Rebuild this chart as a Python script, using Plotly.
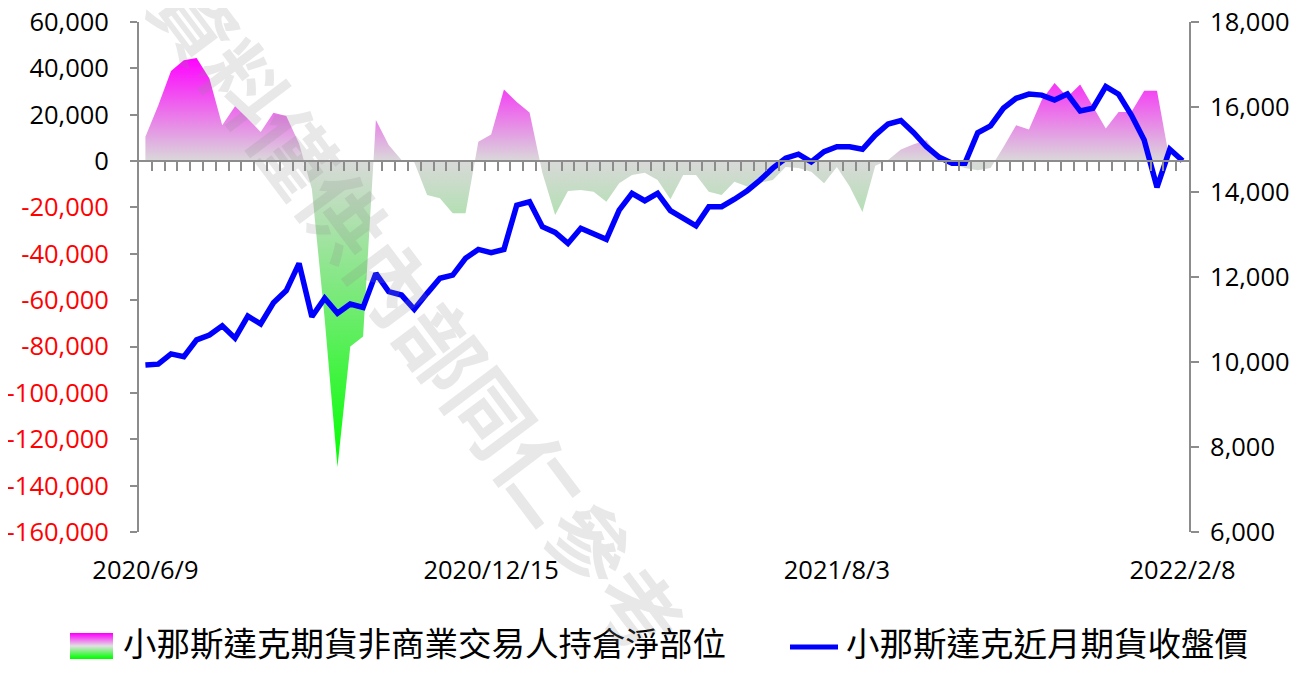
import plotly.graph_objects as go

# ---- data (weekly) ----
tick_labels = ["2020/6/9", "2020/12/15", "2021/8/3", "2022/2/8"]
tick_index = [0, 27, 54, 81]

net_position = [
    10500, 24000, 38900, 43500, 44500, 35600, 15500, 23700, 18300, 12600,
    20800, 19400, 7600, -12000, -68000, -132000, -80000, -75700, 17700, 6900,
    500, -500, -14600, -16000, -22500, -22500, 8300, 11500, 30900, 25500,
    21000, -5000, -23300, -12900, -12500, -13200, -17500, -9600, -6000, -5000,
    -8200, -16500, -6000, -6000, -13200, -14600, -8900, -11000, -9300, -8200,
    -2500, -3000, -4600, -9600, -2500, -11000, -22000, -2000, 500, 5000,
    7300, 9000, 1000, -1000, -3000, -4000, -3000, 6000, 15500, 13600,
    26300, 33700, 27700, 33000, 23400, 14100, 21200, 21200, 30300, 30300,
    0, 0,
]

close_price = [
    9930, 9950, 10190, 10125, 10520, 10635, 10850, 10560, 11080, 10895,
    11395, 11680, 12320, 11065, 11500, 11145, 11365, 11285, 12085, 11655,
    11575, 11240, 11615, 11970, 12045, 12440, 12650, 12570, 12650, 13690,
    13770, 13185, 13050, 12790, 13145, 13010, 12885, 13575, 13970, 13795,
    13970, 13560, 13365, 13205, 13655, 13655, 13830, 14030, 14280, 14560,
    14795, 14890, 14710, 14950, 15065, 15065, 15005, 15340, 15600, 15680,
    15395, 15065, 14815, 14675, 14675, 15395, 15555, 15970, 16205, 16305,
    16280, 16165, 16305, 15905, 15970, 16480, 16300, 15810, 15225, 14110,
    15005, 14735,
]

series_names = ["小那斯達克期貨非商業交易人持倉淨部位", "小那斯達克近月期貨收盤價"]
left_ticks = [60000, 40000, 20000, 0, -20000, -40000, -60000, -80000,
              -100000, -120000, -140000, -160000]
right_ticks = [6000, 8000, 10000, 12000, 14000, 16000, 18000]
watermark_text = "資料僅供內部同仁參考"

# ---- figure geometry (page body adds an 8px offset) ----
OFF = 8
W, H = 1306 - OFF, 686 - 2 * OFF
PLOT_L, PLOT_R, PLOT_T, PLOT_B = 139, 1189, 22, 532   # target screen pixels
ML, MT = PLOT_L - OFF, PLOT_T - OFF
MR, MB = W - (PLOT_R - OFF), H - (PLOT_B - OFF)


def px2x(px):
    return (px - PLOT_L) / (PLOT_R - PLOT_L)


def py2y(py):
    return (PLOT_B - py) / (PLOT_B - PLOT_T)


idx = list(range(len(net_position)))
lo, hi = min(net_position), max(net_position)
zfrac = (0 - lo) / (hi - lo)

AX = "#8c8c8c"
FONT = "Open Sans, Noto Sans CJK TC, sans-serif"
CJK = "Noto Sans CJK TC, sans-serif"
TFS = 25.5

fig = go.Figure()
fig.add_trace(go.Scatter(
    x=idx, y=net_position, mode="lines", line=dict(width=0),
    fill="tozeroy",
    fillgradient=dict(type="vertical", start=lo, stop=hi,
                      colorscale=[[0, "#00ff00"], [zfrac, "#d9d9d9"], [1, "#ff00ff"]]),
    name=series_names[0], showlegend=False, hoverinfo="skip",
))
fig.add_trace(go.Scatter(
    x=idx, y=close_price, yaxis="y2", mode="lines",
    line=dict(color="#0000ff", width=5.5),
    name=series_names[1], showlegend=False,
))
# carrier for the zero-crossing category axis
fig.add_trace(go.Scatter(x=[0], y=[0], xaxis="x2", mode="markers",
                         marker=dict(opacity=0), showlegend=False, hoverinfo="skip"))

left_text = [f'<span style="color:#ff0000">{v:,}</span>' if v < 0 else f"{v:,}" for v in left_ticks]

fig.update_layout(
    width=W, height=H,
    margin=dict(l=ML, r=MR, t=MT, b=MB, autoexpand=False),
    paper_bgcolor="white", plot_bgcolor="white",
    font=dict(family=FONT, size=TFS, color="#000000"),
    xaxis=dict(range=[-0.5, len(idx) - 0.5], tickmode="array",
               tickvals=tick_index, ticktext=tick_labels, automargin=False,
               showline=False, ticks="", showgrid=False, zeroline=False,
               ticklabelstandoff=20, ticklabeloverflow="allow",
               tickfont=dict(size=TFS)),
    xaxis2=dict(overlaying="x", anchor="free", automargin=False,
                position=(0 - left_ticks[-1]) / (left_ticks[0] - left_ticks[-1]),
                range=[-0.5, len(idx) - 0.5],
                tickmode="array", tickvals=[i + 0.5 for i in idx[:-1]],
                showticklabels=False, showline=True, linecolor=AX, linewidth=2,
                ticks="outside", ticklen=9, tickwidth=2, tickcolor=AX,
                showgrid=False, zeroline=False),
    yaxis=dict(range=[left_ticks[-1], left_ticks[0]], tickmode="array",
               tickvals=left_ticks, ticktext=left_text, automargin=False,
               showline=True, linecolor=AX, linewidth=2,
               ticks="outside", ticklen=7, tickwidth=2, tickcolor=AX,
               showgrid=False, zeroline=False, ticklabelstandoff=16,
               ticklabeloverflow="allow", tickfont=dict(size=TFS)),
    yaxis2=dict(overlaying="y", side="right", range=[right_ticks[0], right_ticks[-1]],
                tickmode="array", tickvals=right_ticks, automargin=False,
                ticktext=[f"{v:,}" for v in right_ticks],
                showline=True, linecolor=AX, linewidth=2,
                ticks="outside", ticklen=8, tickwidth=2, tickcolor=AX,
                showgrid=False, zeroline=False, ticklabelstandoff=6,
                ticklabeloverflow="allow", tickfont=dict(size=TFS)),
)

shapes = []
# gradient legend swatch (magenta -> gray -> green), built from thin bands
sx0, sx1, sy0, sy1 = 70, 113, 633, 659
n = 26


def lerp(c1, c2, t):
    return tuple(round(a + (b - a) * t) for a, b in zip(c1, c2))


mag, gry, grn = (255, 0, 255), (225, 225, 225), (0, 255, 0)
for k in range(n):
    t = k / (n - 1)
    c = lerp(mag, gry, t * 2) if t < 0.5 else lerp(gry, grn, (t - 0.5) * 2)
    y0 = sy0 + (sy1 - sy0) * k / n
    y1 = sy0 + (sy1 - sy0) * (k + 1) / n
    shapes.append(dict(type="rect", xref="paper", yref="paper",
                       x0=px2x(sx0), x1=px2x(sx1), y0=py2y(y1), y1=py2y(y0),
                       line=dict(width=0), fillcolor="rgb(%d,%d,%d)" % c, layer="above"))
# blue line legend symbol
shapes.append(dict(type="line", xref="paper", yref="paper",
                   x0=px2x(790), x1=px2x(838), y0=py2y(647), y1=py2y(647),
                   line=dict(color="#0000ff", width=5)))

annotations = [
    dict(text=series_names[0], xref="paper", yref="paper", x=px2x(121), y=py2y(641),
         xanchor="left", yanchor="middle", showarrow=False,
         font=dict(family=CJK, size=33.5, color="#000000")),
    dict(text=series_names[1], xref="paper", yref="paper", x=px2x(844), y=py2y(641),
         xanchor="left", yanchor="middle", showarrow=False,
         font=dict(family=CJK, size=33.5, color="#000000")),
    dict(text=watermark_text, xref="paper", yref="paper", x=px2x(420), y=py2y(312),
         xanchor="center", yanchor="middle", showarrow=False, textangle=53,
         font=dict(family=CJK, size=82, weight=700, color="rgba(140,140,140,0.2)")),
]

fig.update_layout(shapes=shapes, annotations=annotations)
fig.write_html("out.html")
